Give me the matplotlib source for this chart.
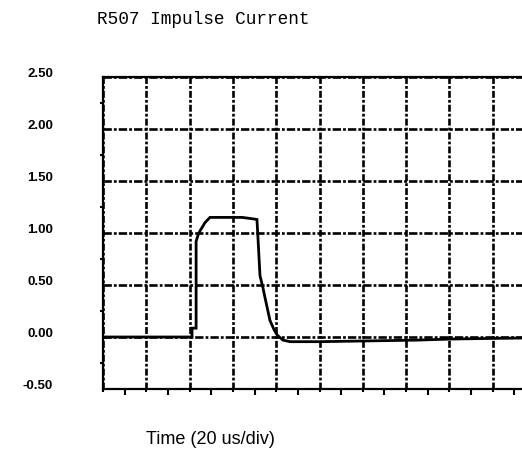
import matplotlib
matplotlib.use("Agg")
import matplotlib.pyplot as plt
import matplotlib.transforms as mtransforms
from matplotlib.ticker import MultipleLocator, NullFormatter

plt.rcParams['lines.scale_dashes'] = False

title_text = "R507 Impulse Current"
xlabel_text = "Time (20 us/div)"

# time in microseconds, current (arbitrary units)
time_us = [0, 41.1, 41.1, 43.0, 43.0, 43.9, 44.8, 47.1, 49.4, 64.2, 67.9, 71.1,
           71.6, 72.5, 73.9, 74.8, 77.1, 79.0, 80.4, 83.1, 86.4, 100, 115, 130,
           145, 160, 175, 193.5]
current = [0, 0, 0.085, 0.085, 0.92, 0.98, 1.02, 1.10, 1.15, 1.15, 1.14, 1.13,
           0.94, 0.59, 0.47, 0.38, 0.16, 0.07, 0.02, -0.03, -0.045, -0.045, -0.04,
           -0.035, -0.03, -0.02, -0.015, -0.01]

ytick_vals = [-0.5, 0.0, 0.5, 1.0, 1.5, 2.0, 2.5]
ytick_labels = ["-0.50", "0.00", "0.50", "1.00", "1.50", "2.00", "2.50"]

fig = plt.figure(figsize=(5.22, 4.49), dpi=100)
ax = fig.add_axes([103/522, 60/449, 1 - 103/522, (389-77)/449])

ax.plot(time_us, current, color="black", lw=2.0, solid_joinstyle="miter", zorder=3)

ax.set_xlim(0, 193.5)
ax.set_ylim(-0.5, 2.5)

ax.xaxis.set_major_locator(MultipleLocator(20))
ax.xaxis.set_minor_locator(MultipleLocator(10))
ax.xaxis.set_major_formatter(NullFormatter())
ax.set_yticks(ytick_vals)
ax.set_yticklabels(ytick_labels)
ax.yaxis.set_minor_locator(MultipleLocator(0.25))

ax.grid(True, which="major", axis="y", color="black", lw=1.9,
        linestyle=(0, (6, 1.5, 2, 1.5)))
ax.grid(True, which="major", axis="x", color="black", lw=1.9,
        linestyle=(0, (5, 1.5, 2, 1.5)))

ax.tick_params(axis="x", which="major", direction="out", length=2, width=1.5)
ax.tick_params(axis="x", which="minor", direction="out", length=4.5, width=1.5)
ax.tick_params(axis="y", which="major", length=0, pad=36)
ax.tick_params(axis="y", which="minor", direction="out", length=2.5, width=1.5)

for lab in ax.get_yticklabels():
    lab.set_fontfamily("Liberation Sans")
    lab.set_fontweight("bold")
    lab.set_fontsize(9.5)
    lab.set_transform(lab.get_transform() +
                      mtransforms.ScaledTranslation(0, 3/72, fig.dpi_scale_trans))

for side in ["left", "bottom", "top"]:
    ax.spines[side].set_linewidth(1.6)
ax.spines["right"].set_visible(False)

fig.text(97/522, 1 - 20/449, title_text, family="Liberation Mono",
         fontsize=12.8, va="center", ha="left", color="black")
fig.text(210/522, 1 - 440/449, xlabel_text, family="Liberation Sans",
         fontsize=13, va="center", ha="center", color="black")

fig.savefig("out.png", dpi=100)
